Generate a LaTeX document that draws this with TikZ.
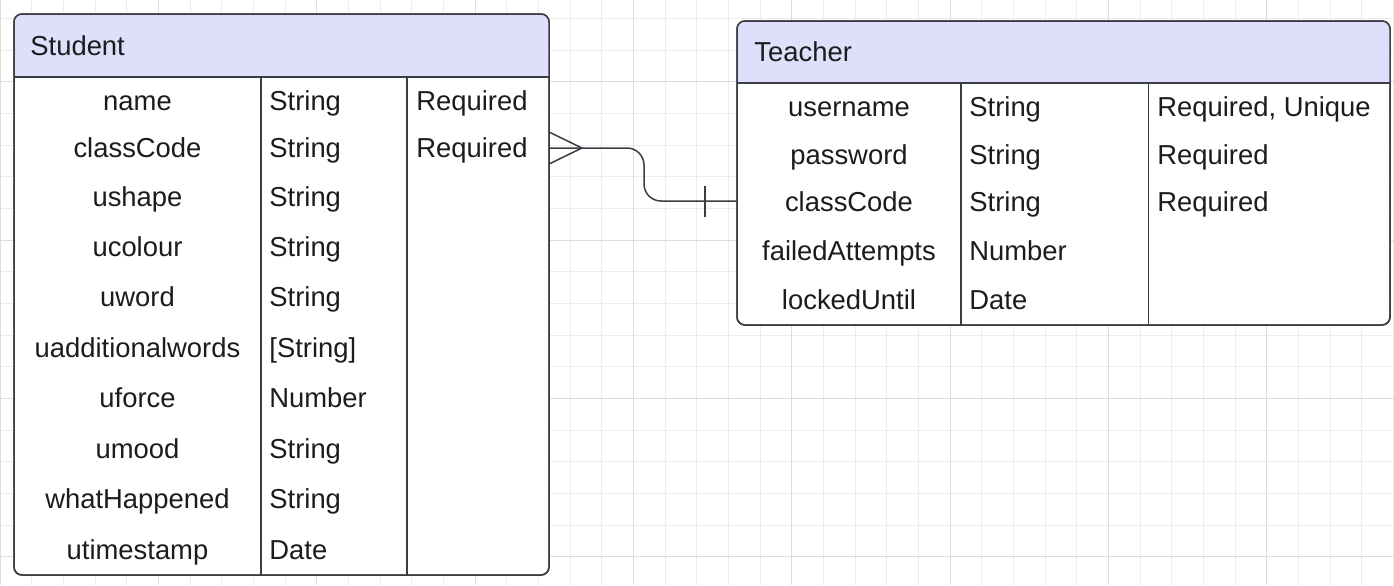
\documentclass[tikz,border=0pt]{standalone}
\usepackage{fontspec}
\setmainfont{Liberation Sans}
\definecolor{linec}{HTML}{3B3D44}
\definecolor{headc}{HTML}{DEDFFB}
\definecolor{gridminor}{HTML}{ECECEC}
\definecolor{gridmajor}{HTML}{DCDCDC}
\definecolor{txt}{HTML}{1C1C1C}
\begin{document}
\begin{tikzpicture}[x=0.5pt,y=-0.5pt,
  tbl/.style={draw=linec, line width=0.75pt, fill=white, rounded corners=4pt, inner sep=0pt, outer sep=0pt, anchor=north west},
  rowline/.style={draw=linec, line width=0.75pt},
  conn/.style={draw=linec, line width=0.75pt},
  lbl/.style={font=\fontsize{13.7}{16}\selectfont, text=txt, inner sep=0pt},
  gmin/.style={draw=gridminor, line width=0.5pt},
  gmaj/.style={draw=gridmajor, line width=0.5pt}]
\useasboundingbox (0,0) rectangle (1394,585);
\fill[white] (0,0) rectangle (1394,585);
% grid
\foreach \k in {0,...,44} { \draw[gmin] (\k*31.667,0) -- (\k*31.667,585); }
\foreach \k in {0,...,17} { \draw[gmin] (0,18.33+\k*31.667) -- (1394,18.33+\k*31.667); }
\foreach \k in {0,5,...,40} { \draw[gmaj] (\k*31.667,0) -- (\k*31.667,585); }
\foreach \k in {2,7,12,17} { \draw[gmaj] (0,18.33+\k*31.667) -- (1394,18.33+\k*31.667); }

% Student table
\node[tbl, minimum width=267.5pt, minimum height=280.5pt] (student) at (14,14) {};
\begin{scope}
  \clip[rounded corners=4pt] (student.north west) rectangle (student.south east);
  \fill[headc] (student.north west) rectangle ([yshift=-31.5pt]student.north east);
\end{scope}
\draw[rowline] (student.west |- 0,77) -- (student.east |- 0,77);
\draw[rowline] (261,77) -- (261,77 |- student.south);
\draw[rowline] (407,77) -- (407,77 |- student.south);
\draw[rowline, rounded corners=4pt] (student.north west) rectangle (student.south east);
\node[lbl, anchor=base west] (stitle) at (30,55) {Student};
\foreach \n/\t/\r/\b [count=\i] in {
  name/String/Required/110.7,
  classCode/String/Required/157.7,
  ushape/String//206,
  ucolour/String//256,
  uword/String//306.7,
  uadditionalwords/{[String]}//357.3,
  uforce/Number//407.7,
  umood/String//458.3,
  whatHappened/String//508.3,
  utimestamp/Date//559.3} {
  \node[lbl, anchor=base] (sa\i) at (137.5,\b) {\n};
  \node[lbl, anchor=base west] (sb\i) at (269,\b) {\t};
  \node[lbl, anchor=base west] (sc\i) at (416,\b) {\r};
}

% Teacher table
\node[tbl, minimum width=326.5pt, minimum height=152pt] (teacher) at (737,21) {};
\begin{scope}
  \clip[rounded corners=4pt] (teacher.north west) rectangle (teacher.south east);
  \fill[headc] (teacher.north west) rectangle ([yshift=-31pt]teacher.north east);
\end{scope}
\draw[rowline] (teacher.west |- 0,83) -- (teacher.east |- 0,83);
\draw[rowline] (961,83) -- (961,83 |- teacher.south);
\draw[rowline] (1148.5,83) -- (1148.5,83 |- teacher.south);
\draw[rowline, rounded corners=4pt] (teacher.north west) rectangle (teacher.south east);
\node[lbl, anchor=base west] (ttitle) at (754,61.7) {Teacher};
\foreach \n/\t/\r/\b [count=\i] in {
  username/String/{Required, Unique}/116.7,
  password/String/Required/164.3,
  classCode/String/Required/211,
  failedAttempts/Number//260,
  lockedUntil/Date//309} {
  \node[lbl, anchor=base] (ta\i) at (849,\b) {\n};
  \node[lbl, anchor=base west] (tb\i) at (969,\b) {\t};
  \node[lbl, anchor=base west] (tc\i) at (1157,\b) {\r};
}

% connector
\coordinate (cs) at (student.east |- 0,148);
\coordinate (ct) at (teacher.west |- 0,201);
\draw[conn, rounded corners=8.5pt] (cs) -- (644,148) -- (644,201) -- (ct);
\draw[conn] ([yshift=8pt]cs) -- ([xshift=16.5pt]cs) -- ([yshift=-8pt]cs);
\draw[conn] ([xshift=-16pt,yshift=7.75pt]ct) -- ([xshift=-16pt,yshift=-7.75pt]ct);
\end{tikzpicture}
\end{document}
